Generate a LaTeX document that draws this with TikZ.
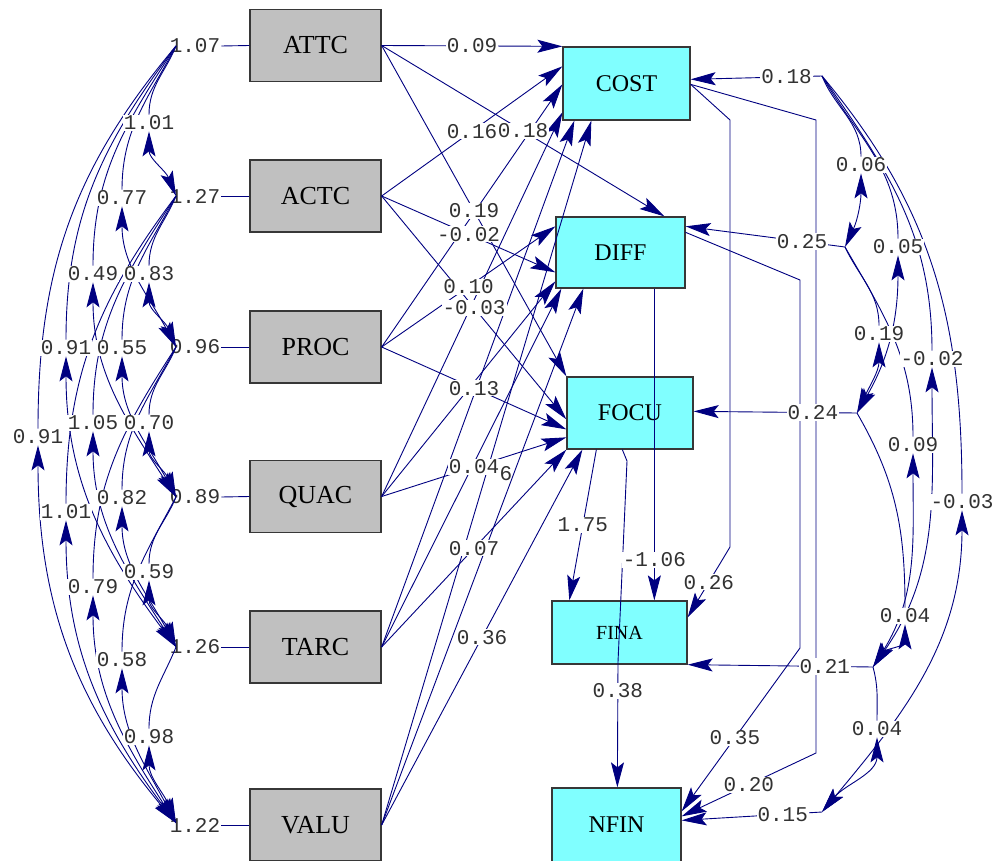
\documentclass[tikz,border=0pt]{standalone}
\usepackage{fontspec}
\newfontfamily\numfont{Liberation Mono}
\newfontfamily\varfont{Liberation Serif}
\usetikzlibrary{arrows.meta}
\pgfdeclarelayer{front}
\pgfsetlayers{main,front}
\definecolor{linkblue}{RGB}{0,0,128}
\definecolor{exofill}{RGB}{192,192,192}
\definecolor{endofill}{RGB}{128,255,255}
\definecolor{boxedge}{RGB}{55,55,55}
\definecolor{numink}{RGB}{50,50,50}

\tikzset{
  exo/.style={draw=boxedge, line width=1.3pt, fill=exofill, inner sep=0pt,
              minimum width=131pt, minimum height=72pt,
              font=\varfont\fontsize{26}{30}\selectfont},
  endo/.style={draw=boxedge, line width=1.3pt, fill=endofill, inner sep=0pt,
               font=\varfont\fontsize{24}{28}\selectfont},
  lab/.style={fill=white, inner sep=1pt, text=numink,
              font=\numfont\fontsize{21}{21}\selectfont},
  varlab/.style={inner sep=1pt, text=numink,
                 font=\numfont\fontsize{21}{21}\selectfont},
  link/.style={draw=linkblue, line width=0.9pt},
  headtip/.tip={Stealth[length=25pt,width=13pt,inset=5pt]},
  gam/.style={link, -headtip},
  cov/.style={link, headtip-headtip},
}

% structural path with its estimate at the middle
\newcommand\gampath[4]{%
  \draw[gam] (#1) -- coordinate[pos=.5] (#4) (#2);
  \begin{pgfonlayer}{front}\node[lab] (#4-t) at (#4) {#3};\end{pgfonlayer}}

% covariance arc on the left: name, from, to, x, y, text, angle
\newcommand\lcov[7]{%
  \begin{pgfonlayer}{front}\node[lab] (#1) at (#4,#5) {#6};\end{pgfonlayer}
  \pgfmathsetmacro\aout{270-#7}\pgfmathsetmacro\ain{90+#7}%
  \draw[cov] (#2) to[out=\aout,in=90] (#1) to[out=270,in=\ain] (#3);}

% covariance arc on the right: name, from, to, x, y, text, angle at start, angle at end
\newcommand\rcov[8]{%
  \begin{pgfonlayer}{front}\node[lab] (#1) at (#4,#5) {#6};\end{pgfonlayer}
  \pgfmathsetmacro\aout{270+#7}\pgfmathsetmacro\ain{90-#8}%
  \draw[cov] (#2) to[out=\aout,in=90] (#1) to[out=270,in=\ain] (#3);}

\begin{document}
\begin{tikzpicture}[x=1pt,y=1pt]
\useasboundingbox (0,0) rectangle (1003,-861);

% exogenous variables
\node[exo] (ATTC) at (315.5,-45.5) {ATTC};
\node[exo] (ACTC) at (315.5,-196) {ACTC};
\node[exo] (PROC) at (315.5,-347) {PROC};
\node[exo] (QUAC) at (315.5,-496.5) {QUAC};
\node[exo] (TARC) at (315.5,-647) {TARC};
\node[exo] (VALU) at (315.5,-825) {VALU};

% endogenous variables
\node[endo, minimum width=127pt, minimum height=73pt] (COST) at (626.5,-83.5) {COST};
\node[endo, minimum width=129pt, minimum height=71pt] (DIFF) at (620.5,-252.5) {DIFF};
\node[endo, minimum width=126pt, minimum height=72pt] (FOCU) at (630,-413) {FOCU};
\node[endo, minimum width=135pt, minimum height=63pt,
      font=\varfont\fontsize{20}{24}\selectfont] (FINA) at (619.5,-632.5) {FINA};
\node[endo, minimum width=129pt, minimum height=74pt] (NFIN) at (616.5,-825) {NFIN};

% variances of the exogenous variables
\node[varlab] (v1) at (195,-46) {1.07};
\node[varlab] (v2) at (195,-196) {1.27};
\node[varlab] (v3) at (195,-347) {0.96};
\node[varlab] (v4) at (195,-497) {0.89};
\node[varlab] (v5) at (195,-647) {1.26};
\node[varlab] (v6) at (195,-825) {1.22};
\foreach \v/\b in {v1/ATTC,v2/ACTC,v3/PROC,v4/QUAC,v5/TARC,v6/VALU}
  \draw[link] (\v.east) -- (\b.west);
\coordinate (p1) at (176,-46);
\coordinate (p2) at (176,-196);
\coordinate (p3) at (176,-347);
\coordinate (p4) at (176,-497);
\coordinate (p5) at (176,-647);
\coordinate (p6) at (176,-823);

% covariances of the exogenous variables
\lcov{k12}{p1}{p2}{149}{-123}{1.01}{22}
\lcov{k13}{p1}{p3}{122}{-198}{0.77}{28}
\lcov{k14}{p1}{p4}{93}{-274}{0.49}{33}
\lcov{k23}{p2}{p3}{149}{-274}{0.83}{22}
\lcov{k15}{p1}{p5}{66}{-348}{0.91}{37}
\lcov{k24}{p2}{p4}{122}{-348}{0.55}{28}
\lcov{k16}{p1}{p6}{38}{-437}{0.91}{40}
\lcov{k25}{p2}{p5}{93}{-423}{1.05}{33}
\lcov{k34}{p3}{p4}{149}{-423}{0.70}{22}
\lcov{k35}{p3}{p5}{122}{-498}{0.82}{28}
\lcov{k26}{p2}{p6}{66}{-512}{1.01}{37}
\lcov{k45}{p4}{p5}{149}{-572}{0.59}{22}
\lcov{k36}{p3}{p6}{93}{-587}{0.79}{33}
\lcov{k46}{p4}{p6}{122}{-660}{0.58}{28}
\lcov{k56}{p5}{p6}{149}{-737}{0.98}{22}

% paths to COST
\gampath{ATTC.east}{COST.north west}{0.09}{g11}
\gampath{ACTC.east}{[yshift=-20pt]COST.north west}{0.16}{g12}
\draw[gam] (PROC.east) -- ([yshift=-38pt]COST.north west);
\draw[gam] (QUAC.east) -- ([yshift=-66pt]COST.north west);
\draw[gam] (TARC.east) -- ([xshift=12pt]COST.south west);
\draw[gam] (VALU.east) -- ([xshift=29pt]COST.south west);
% paths to DIFF
\gampath{ATTC.east}{[xshift=109pt]DIFF.north west}{0.18}{g21}
\gampath{PROC.east}{[yshift=-10pt]DIFF.north west}{0.10}{g23}
\gampath{ACTC.east}{[yshift=-56pt]DIFF.north west}{-0.02}{g22}
\draw[gam] (QUAC.east) -- ([yshift=-65pt]DIFF.north west);
\draw[gam] (TARC.east) -- ([xshift=6pt]DIFF.south west);
\draw[gam] (VALU.east) -- ([xshift=28pt]DIFF.south west);
% paths to FOCU
\gampath{ATTC.east}{FOCU.north west}{0.19}{g31}
\gampath{ACTC.east}{[yshift=-43pt]FOCU.north west}{-0.03}{g32}
\gampath{PROC.east}{[yshift=-53pt]FOCU.north west}{0.13}{g33}
\gampath{QUAC.east}{[yshift=-61pt]FOCU.north west}{0.04}{g34}
\gampath{TARC.east}{FOCU.south west}{0.07}{g35}
\gampath{VALU.east}{[xshift=16pt]FOCU.south west}{0.36}{g36}
\begin{pgfonlayer}{front}
  \node[lab, fill=none] (frag) at (506,-474) {6};
\end{pgfonlayer}

% paths among the endogenous variables
\draw[gam] ([xshift=30pt]FOCU.south west) -- coordinate[pos=.5] (b175) ([xshift=18pt]FINA.north west);
\draw[gam] ([xshift=99pt]DIFF.south west) -- coordinate[pos=.87] (b106) ([xshift=103pt]FINA.north west);
\draw[gam] ([yshift=-38pt]COST.north east) -- (730,-120) -- (730,-547)
  -- coordinate[pos=.5] (b026) ([yshift=-17pt]FINA.north east);
\draw[gam] ([xshift=56pt]FOCU.south west) -- (627,-461) -- (618,-662)
  -- coordinate[pos=.23] (b038) ([xshift=66pt]NFIN.north west);
\draw[gam] ([yshift=-16pt]DIFF.north east) -- (800,-280) -- (800,-648)
  -- coordinate[pos=.55] (b035) ([yshift=-24pt]NFIN.north east);
\draw[gam] ([yshift=-38pt]COST.north east) -- (816,-120) -- (816,-753)
  -- coordinate[pos=.5] (b020) ([yshift=-29pt]NFIN.north east);
\begin{pgfonlayer}{front}
  \node[lab] (b175-t) at (b175) {1.75};
  \node[lab] (b106-t) at (b106) {-1.06};
  \node[lab] (b026-t) at (b026) {0.26};
  \node[lab] (b038-t) at (b038) {0.38};
  \node[lab] (b035-t) at (b035) {0.35};
  \node[lab] (b020-t) at (b020) {0.20};
\end{pgfonlayer}

% error terms
\coordinate (e1) at (822,-76);
\coordinate (e2) at (845,-247);
\coordinate (e3) at (857,-413);
\coordinate (e4) at (873,-667);
\coordinate (e5) at (822,-812);
\draw[gam] (e1) -- coordinate[pos=.27] (z1) ([yshift=-33pt]COST.north east);
\draw[gam] (e2) -- coordinate[pos=.27] (z2) ([yshift=-10pt]DIFF.north east);
\draw[gam] (e3) -- coordinate[pos=.27] (z3) ([yshift=-35pt]FOCU.north east);
\draw[gam] (e4) -- coordinate[pos=.26] (z4) (FINA.south east);
\draw[gam] (e5) -- coordinate[pos=.28] (z5) ([yshift=-33pt]NFIN.north east);
\begin{pgfonlayer}{front}
  \node[lab] (z1-t) at (z1) {0.18};
  \node[lab] (z2-t) at (z2) {0.25};
  \node[lab] (z3-t) at (z3) {0.24};
  \node[lab] (z4-t) at (z4) {0.21};
  \node[lab] (z5-t) at (z5) {0.15};
\end{pgfonlayer}

% error covariances
\rcov{r12}{e1}{e2}{861}{-165}{0.06}{22}{25}
\rcov{r13}{e1}{e3}{898}{-247}{0.05}{30}{30}
\rcov{r23}{e2}{e3}{879}{-334}{0.19}{25}{25}
\rcov{r14}{e1}{e4}{932}{-359}{-0.02}{35}{35}
\rcov{r24}{e2}{e4}{913}{-445}{0.09}{30}{32}
\rcov{r15}{e1}{e5}{962}{-502}{-0.03}{40}{40}
\rcov{r34}{e3}{e4}{905}{-616}{0.04}{30}{35}
\rcov{r45}{e4}{e5}{877}{-729}{0.04}{15}{40}
\end{tikzpicture}
\end{document}
